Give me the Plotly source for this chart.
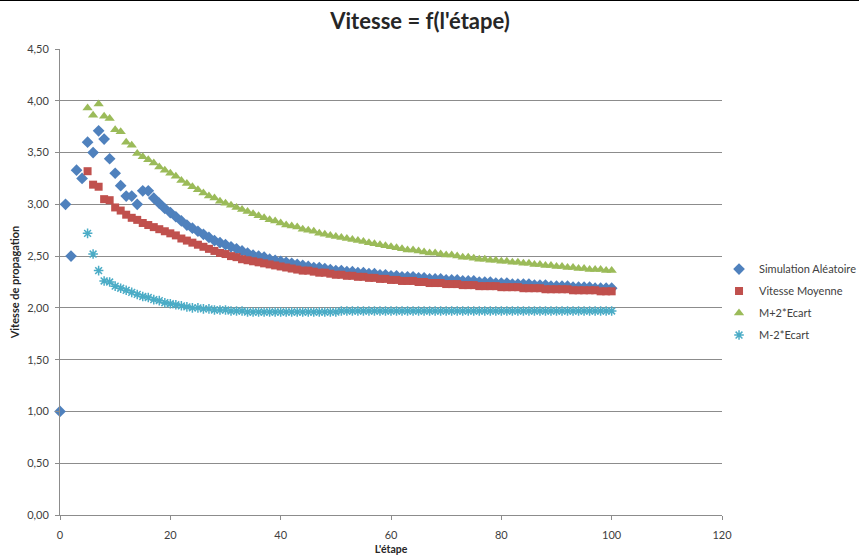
import plotly.graph_objects as go

# ---- data ----
steps_sim = list(range(0, 101))
sim_aleatoire = [
    1.00, 3.00, 2.50, 3.33, 3.25, 3.60, 3.50, 3.71, 3.63, 3.44,
    3.30, 3.18, 3.08, 3.08, 3.00, 3.13, 3.13, 3.06, 3.01, 2.96,
    2.92, 2.88, 2.84, 2.80, 2.77, 2.74, 2.71, 2.68, 2.65, 2.63,
    2.61, 2.59, 2.57, 2.55, 2.53, 2.51, 2.50, 2.49, 2.47, 2.46,
    2.45, 2.44, 2.43, 2.42, 2.41, 2.40, 2.39, 2.39, 2.38, 2.37,
    2.36, 2.36, 2.35, 2.35, 2.34, 2.34, 2.33, 2.33, 2.32, 2.32,
    2.31, 2.31, 2.30, 2.30, 2.30, 2.29, 2.29, 2.28, 2.28, 2.28,
    2.27, 2.27, 2.27, 2.26, 2.26, 2.26, 2.25, 2.25, 2.25, 2.24,
    2.24, 2.24, 2.23, 2.23, 2.23, 2.23, 2.22, 2.22, 2.22, 2.21,
    2.21, 2.21, 2.21, 2.20, 2.20, 2.20, 2.20, 2.19, 2.19, 2.19,
    2.19,
]

steps_stats = list(range(5, 101))
vitesse_moyenne = [
    3.32, 3.19, 3.17, 3.05, 3.04,
    2.97, 2.94, 2.90, 2.87, 2.85, 2.82, 2.80, 2.78, 2.76, 2.74,
    2.72, 2.70, 2.67, 2.65, 2.63, 2.61, 2.59, 2.57, 2.55, 2.53,
    2.52, 2.50, 2.49, 2.47, 2.46, 2.45, 2.44, 2.43, 2.42, 2.41,
    2.40, 2.39, 2.38, 2.37, 2.36, 2.36, 2.35, 2.34, 2.34, 2.33,
    2.32, 2.32, 2.31, 2.31, 2.30, 2.30, 2.29, 2.29, 2.28, 2.28,
    2.27, 2.27, 2.26, 2.26, 2.26, 2.25, 2.25, 2.24, 2.24, 2.24,
    2.23, 2.23, 2.23, 2.22, 2.22, 2.22, 2.21, 2.21, 2.21, 2.21,
    2.20, 2.20, 2.20, 2.20, 2.19, 2.19, 2.19, 2.19, 2.18, 2.18,
    2.18, 2.18, 2.18, 2.17, 2.17, 2.17, 2.17, 2.17, 2.16, 2.16,
    2.16,
]
m_plus_2ecart = [
    3.93, 3.86, 3.97, 3.85, 3.83,
    3.72, 3.70, 3.60, 3.57, 3.49, 3.46, 3.43, 3.40, 3.36, 3.33,
    3.30, 3.27, 3.23, 3.20, 3.17, 3.14, 3.11, 3.08, 3.06, 3.03,
    3.01, 2.99, 2.97, 2.95, 2.93, 2.91, 2.89, 2.87, 2.85, 2.84,
    2.82, 2.80, 2.79, 2.78, 2.76, 2.75, 2.74, 2.72, 2.71, 2.70,
    2.69, 2.68, 2.67, 2.66, 2.65, 2.64, 2.63, 2.62, 2.61, 2.60,
    2.59, 2.58, 2.57, 2.56, 2.56, 2.55, 2.54, 2.53, 2.53, 2.52,
    2.51, 2.51, 2.50, 2.49, 2.49, 2.48, 2.47, 2.47, 2.46, 2.46,
    2.45, 2.45, 2.44, 2.44, 2.43, 2.43, 2.42, 2.42, 2.41, 2.41,
    2.40, 2.40, 2.39, 2.39, 2.38, 2.38, 2.37, 2.37, 2.37, 2.36,
    2.36,
]
m_moins_2ecart = [
    2.72, 2.52, 2.36, 2.26, 2.25,
    2.21, 2.19, 2.17, 2.15, 2.13, 2.11, 2.10, 2.08, 2.07, 2.05,
    2.04, 2.03, 2.02, 2.01, 2.00, 2.00, 1.99, 1.99, 1.98, 1.98,
    1.98, 1.97, 1.97, 1.97, 1.96, 1.96, 1.96, 1.96, 1.96, 1.96,
    1.96, 1.96, 1.96, 1.96, 1.96, 1.96, 1.96, 1.96, 1.96, 1.96,
    1.96, 1.97, 1.97, 1.97, 1.97, 1.97, 1.97, 1.97, 1.97, 1.97,
    1.97, 1.97, 1.97, 1.97, 1.97, 1.97, 1.97, 1.97, 1.97, 1.97,
    1.97, 1.97, 1.97, 1.97, 1.97, 1.97, 1.97, 1.97, 1.97, 1.97,
    1.97, 1.97, 1.97, 1.97, 1.97, 1.97, 1.97, 1.97, 1.97, 1.97,
    1.97, 1.97, 1.97, 1.97, 1.97, 1.97, 1.97, 1.97, 1.97, 1.97,
    1.97,
]

x_ticks = [0, 20, 40, 60, 80, 100, 120]
y_ticks = [0, 0.5, 1.0, 1.5, 2.0, 2.5, 3.0, 3.5, 4.0, 4.5]

FONT = "Lato, 'Open Sans', sans-serif"
GRID = "#8c8c8c"
TXT = "#404040"

fig = go.Figure()
fig.add_trace(go.Scatter(
    x=steps_sim, y=sim_aleatoire, mode="markers", name="Simulation Aléatoire",
    legendgroup="a", cliponaxis=False,
    marker=dict(symbol="diamond", size=9, color="#4F81BD"),
))
fig.add_trace(go.Scatter(
    x=steps_stats, y=vitesse_moyenne, mode="markers", name="Vitesse Moyenne",
    legendgroup="b",
    marker=dict(symbol="square", size=8, color="#C0504D"),
))
fig.add_trace(go.Scatter(
    x=steps_stats, y=m_plus_2ecart, mode="markers", name="M+2*Ecart",
    legendgroup="c",
    marker=dict(symbol="triangle-up", size=9, color="#9BBB59"),
))
fig.add_trace(go.Scatter(
    x=steps_stats, y=m_moins_2ecart, mode="markers", name="M-2*Ecart",
    legendgroup="d",
    marker=dict(symbol="asterisk-open", size=8, color="#4BACC6",
                line=dict(color="#4BACC6", width=1.5)),
))

fig.update_layout(
    width=859, height=555,
    margin=dict(l=60, r=137, t=49, b=40, autoexpand=False),
    paper_bgcolor="white", plot_bgcolor="white",
    separators=", ",
    font=dict(family=FONT, size=10, color=TXT),
    title=dict(text="<b>Vitesse = f(l'étape)</b>", x=0.489, xanchor="center",
               y=0.962, yanchor="middle",
               font=dict(family=FONT, size=22, color="#262626")),
    showlegend=True,
    legend=dict(x=0.9955, xanchor="left", y=0.457, yanchor="middle",
                font=dict(size=11, color=TXT), itemwidth=30,
                tracegroupgap=3, bgcolor="rgba(0,0,0,0)"),
    xaxis=dict(range=[0, 120], tickvals=x_ticks, showgrid=False,
               showline=True, linecolor=GRID, linewidth=1,
               ticks="outside", ticklen=4, tickcolor=GRID,
               ticklabelstandoff=6,
               zeroline=False, tickfont=dict(size=11, color=TXT),
               title=dict(text="<b>L'étape</b>", font=dict(size=10.5, color="#262626"),
                          standoff=6)),
    yaxis=dict(range=[0, 4.5], tickvals=y_ticks, tickformat=".2f",
               showgrid=True, gridcolor=GRID, gridwidth=1,
               showline=True, linecolor=GRID, linewidth=1,
               ticks="outside", ticklen=4, tickcolor=GRID,
               ticklabelstandoff=4,
               zeroline=False, tickfont=dict(size=11, color=TXT),
               title=dict(text="<b>Vitesse de propagation</b>",
                          font=dict(size=11, color="#262626"), standoff=5)),
    shapes=[dict(type="line", xref="paper", yref="paper", x0=-0.1, x1=1.3,
                 y0=1.105, y1=1.105, line=dict(color="black", width=2))],
)

fig.write_html("out.html")
